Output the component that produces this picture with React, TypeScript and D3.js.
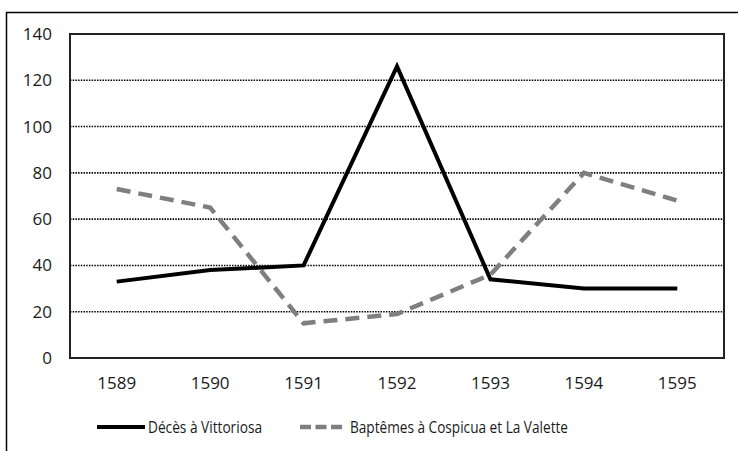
import { useEffect, useRef } from 'react';
import * as d3 from 'd3';

// data
const years = ['1589', '1590', '1591', '1592', '1593', '1594', '1595'];
const deces = [33, 38, 40, 126, 34, 30, 30];
const baptemes = [73, 65, 15, 19, 36, 80, 68];
const yTicks = [0, 20, 40, 60, 80, 100, 120, 140];
const seriesNames = ['Décès à Vittoriosa', 'Baptêmes à Cospicua et La Valette'];

const W = 738;
const H = 451;
const FONT = '"Open Sans", "Noto Sans", sans-serif';

export default function App() {
  const ref = useRef<SVGSVGElement | null>(null);

  useEffect(() => {
    document.body.style.margin = '0';
    if (!ref.current) return;
    const svg = d3.select(ref.current);
    svg.selectAll('*').remove();

    const plot = { left: 70, top: 34, right: 724, bottom: 358 };

    // Outer frame
    svg.append('rect')
      .attr('x', 6.5).attr('y', 12.5)
      .attr('width', W).attr('height', H)
      .attr('fill', '#fff')
      .attr('stroke', '#000')
      .attr('stroke-width', 1.5);

    const x = d3.scalePoint<string>()
      .domain(years)
      .range([plot.left, plot.right])
      .padding(0.5);

    const y = d3.scaleLinear()
      .domain([0, 140])
      .range([plot.bottom, plot.top]);

    // Dotted gridlines
    svg.append('g')
      .selectAll('line')
      .data(yTicks.filter(d => d > 0 && d < 140))
      .enter()
      .append('line')
      .attr('x1', plot.left).attr('x2', plot.right)
      .attr('y1', d => y(d)).attr('y2', d => y(d))
      .attr('stroke', '#000')
      .attr('stroke-width', 1.6)
      .attr('stroke-dasharray', '1.5,1.2');

    // Plot border
    svg.append('rect')
      .attr('x', plot.left).attr('y', plot.top)
      .attr('width', plot.right - plot.left)
      .attr('height', plot.bottom - plot.top)
      .attr('fill', 'none')
      .attr('stroke', '#222')
      .attr('stroke-width', 2);

    // Y tick labels
    svg.append('g')
      .selectAll('text')
      .data(yTicks)
      .enter()
      .append('text')
      .attr('x', 52)
      .attr('y', d => y(d))
      .attr('dy', '0.35em')
      .attr('text-anchor', 'end')
      .style('font-family', FONT)
      .style('font-size', '17px')
      .style('fill', '#1a1a1a')
      .text(d => d);

    // X tick labels
    svg.append('g')
      .selectAll('text')
      .data(years)
      .enter()
      .append('text')
      .attr('x', d => x(d) as number)
      .attr('y', 383)
      .attr('dy', '0.35em')
      .attr('text-anchor', 'middle')
      .style('font-family', FONT)
      .style('font-size', '17px')
      .style('fill', '#1a1a1a')
      .text(d => d);

    const line = d3.line<number>()
      .x((_, i) => x(years[i]) as number)
      .y(d => y(d));

    svg.append('path')
      .datum(baptemes)
      .attr('fill', 'none')
      .attr('stroke', '#7f7f7f')
      .attr('stroke-width', 4.5)
      .attr('stroke-dasharray', '14,8')
      .attr('d', line);

    svg.append('path')
      .datum(deces)
      .attr('fill', 'none')
      .attr('stroke', '#000')
      .attr('stroke-width', 4)
      .attr('stroke-linejoin', 'miter')
      .attr('d', line);

    // Legend
    const legendY = 427;
    const legend = [
      { name: seriesNames[0], x1: 97, x2: 145, tx: 148, tw: 114, color: '#000', width: 4, dash: null },
      { name: seriesNames[1], x1: 300, x2: 346, tx: 350, tw: 218, color: '#7f7f7f', width: 4.5, dash: '11,4.5' },
    ];
    const lg = svg.append('g');
    legend.forEach(l => {
      const ln = lg.append('line')
        .attr('x1', l.x1).attr('x2', l.x2)
        .attr('y1', legendY).attr('y2', legendY)
        .attr('stroke', l.color)
        .attr('stroke-width', l.width);
      if (l.dash) ln.attr('stroke-dasharray', l.dash);
      lg.append('text')
        .attr('x', l.tx)
        .attr('y', legendY)
        .attr('dy', '0.35em')
        .attr('textLength', l.tw)
        .attr('lengthAdjust', 'spacingAndGlyphs')
        .style('font-family', FONT)
        .style('font-size', '16.5px')
        .style('fill', '#1a1a1a')
        .text(l.name);
    });
  }, []);

  return <svg ref={ref} width={W} height={H} style={{ display: 'block', background: '#fff' }} />;
}
